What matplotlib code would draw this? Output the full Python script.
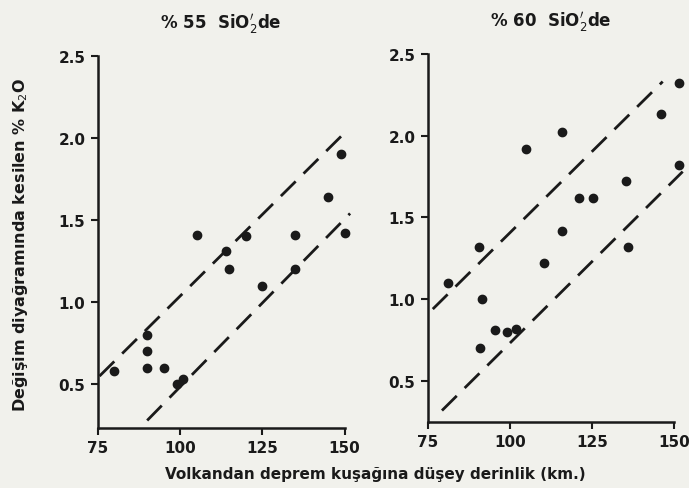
import matplotlib.pyplot as plt

# % 55 SiO2 panel
x55 = [80, 90, 90, 90, 95, 99, 101, 105, 114, 115, 120, 125, 135, 135, 145, 149, 150]
y55 = [0.58, 0.80, 0.70, 0.60, 0.60, 0.50, 0.53, 1.41, 1.31, 1.20, 1.40, 1.10, 1.20, 1.41, 1.64, 1.90, 1.42]
upper55_x = [75.5, 150]
upper55_y = [0.55, 2.03]
lower55_x = [90, 151.7]
lower55_y = [0.28, 1.54]

# % 60 SiO2 panel
x60 = [81, 90.5, 91.5, 91, 95.5, 99, 102, 105, 110.5, 116, 116, 121, 125.5, 135.5, 136, 146, 151.5, 151.5]
y60 = [1.10, 1.32, 1.00, 0.70, 0.81, 0.80, 0.82, 1.92, 1.22, 2.02, 1.42, 1.62, 1.62, 1.72, 1.32, 2.13, 2.32, 1.82]
upper60_x = [76.5, 146.6]
upper60_y = [0.94, 2.33]
lower60_x = [79.3, 152.7]
lower60_y = [0.32, 1.78]

xticks = [75, 100, 125, 150]
yticks = [0.5, 1.0, 1.5, 2.0, 2.5]
ytick_labels = ['0.5', '1.0', '1.5', '2.0', '2.5']

ink = '#1a1a1a'
paper = '#f1f1ec'

fig = plt.figure(figsize=(6.89, 4.89), dpi=100, facecolor=paper)
ax1 = fig.add_axes([0.142, 0.123, 0.358, 0.761])
ax2 = fig.add_axes([0.621, 0.135, 0.357, 0.753])

panels = [
    (ax1, x55, y55, upper55_x, upper55_y, lower55_x, lower55_y, 0.235, "% 55  SiO$_2^{\\prime}$de"),
    (ax2, x60, y60, upper60_x, upper60_y, lower60_x, lower60_y, 0.25, "% 60  SiO$_2^{\\prime}$de"),
]

for ax, xs, ys, ux, uy, lx, ly, ybot, title in panels:
    ax.set_facecolor(paper)
    ax.scatter(xs, ys, s=36, color=ink, zorder=3, clip_on=False)
    ax.plot(ux, uy, color=ink, lw=2, linestyle=(0, (7.5, 4)), clip_on=False)
    ax.plot(lx, ly, color=ink, lw=2, linestyle=(0, (7.5, 4)), clip_on=False)
    ax.set_xlim(75, 150)
    ax.set_ylim(ybot, 2.5)
    ax.set_xticks(xticks)
    ax.set_yticks(yticks)
    ax.set_yticklabels(ytick_labels)
    for side in ['top', 'right']:
        ax.spines[side].set_visible(False)
    for side in ['left', 'bottom']:
        ax.spines[side].set_linewidth(1.8)
        ax.spines[side].set_color(ink)
    ax.tick_params(direction='out', length=5, width=1.5, colors=ink, labelsize=11, pad=4)
    for lab in ax.get_xticklabels() + ax.get_yticklabels():
        lab.set_fontweight('bold')
    ax.set_title(title, fontsize=12, fontweight='bold', color=ink, pad=20)

fig.text(0.03, 0.50, "Değişim diyağramında kesilen % K$_2$O", rotation=90,
         ha='center', va='center', fontsize=11.5, fontweight='bold', color=ink)
fig.text(0.545, 0.03, "Volkandan deprem kuşağına düşey derinlik (km.)",
         ha='center', va='center', fontsize=11, fontweight='bold', color=ink)

plt.savefig('out.png', dpi=100, facecolor=paper)
